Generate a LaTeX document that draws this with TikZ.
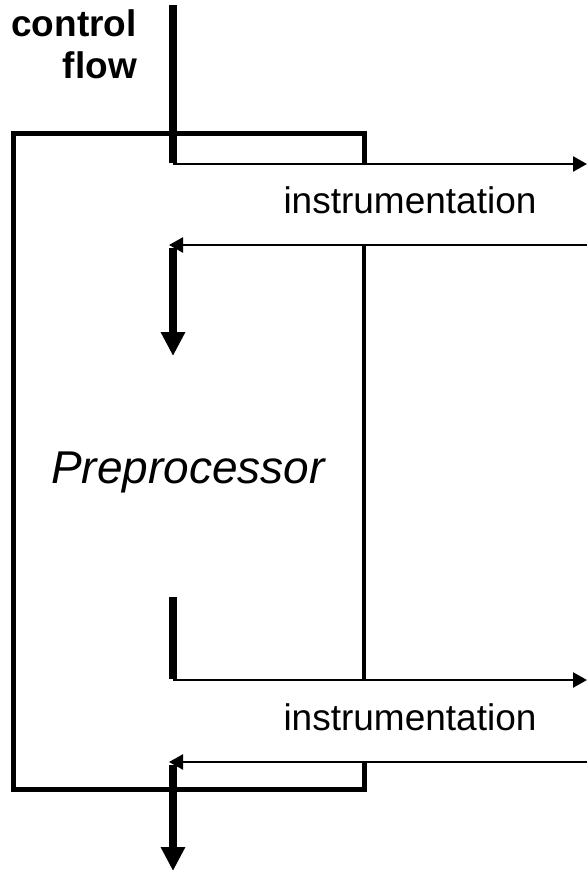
\documentclass[tikz,border=0pt]{standalone}
\usepackage{fontspec}
\setmainfont{Liberation Sans}
\usetikzlibrary{arrows.meta}
\begin{document}
\begin{tikzpicture}[x=1pt,y=-1pt,
  box/.style={line width=5pt,line join=miter},
  ctrl/.style={line width=7.5pt},
  ctrlarrow/.style={line width=7.5pt,-{Triangle[length=24pt,width=23pt]}},
  instr/.style={line width=2.5pt,-{Triangle[length=14pt,width=15pt]}},
  label/.style={inner sep=0pt,font=\fontsize{37}{42}\selectfont}]
\useasboundingbox (0,0) rectangle (587,871);

% preprocessor outline
\coordinate (tl) at (13,133);
\coordinate (tr) at (364,133);
\coordinate (tj) at (364,164);
\coordinate (mj) at (364,245);
\coordinate (bj) at (364,680);
\coordinate (rj) at (364,762);
\coordinate (br) at (364,789);
\coordinate (bl) at (13,789);
\draw[box] (tj) -- (tr) -- (tl) -- (bl) -- (br) -- (rj);
\draw[line width=4.5pt] (mj) -- (bj);

% control flow path
\coordinate (cin) at (173,5);
\coordinate (c1) at (173,164);
\coordinate (c2) at (173,245);
\coordinate (c2tip) at (173,356);
\coordinate (c3) at (173,597);
\coordinate (c4) at (173,680);
\coordinate (c5) at (173,762);
\coordinate (cout) at (173,871);
\coordinate (o1) at (587,164);
\coordinate (i1) at (587,245);
\coordinate (o2) at (587,680);
\coordinate (i2) at (587,762);
\coordinate (h1) at (169,245);
\coordinate (h2) at (169,762);

\draw[ctrl] (cin) -- ([yshift=1pt]c1);
\draw[instr] (c1) -- (o1);
\draw[instr] (i1) -- (h1);
\draw[ctrlarrow] ([yshift=-3pt]c2) -- (c2tip);
\draw[ctrl] (c3) -- ([yshift=1pt]c4);
\draw[instr] (c4) -- (o2);
\draw[instr] (i2) -- (h2);
\draw[ctrlarrow] ([yshift=-3pt]c5) -- (cout);

% labels
\node[label,font=\fontsize{37}{42}\selectfont\bfseries,align=right,anchor=north east]
  (cf) at (137,9) {control\\flow};
\node[label,anchor=base] (ins1) at (410,213) {instrumentation};
\node[label,anchor=base] (ins2) at (410,730) {instrumentation};
\node[inner sep=0pt,font=\fontsize{46}{50}\selectfont\itshape,anchor=base]
  (pp) at (188,483) {Preprocessor};
\end{tikzpicture}
\end{document}
